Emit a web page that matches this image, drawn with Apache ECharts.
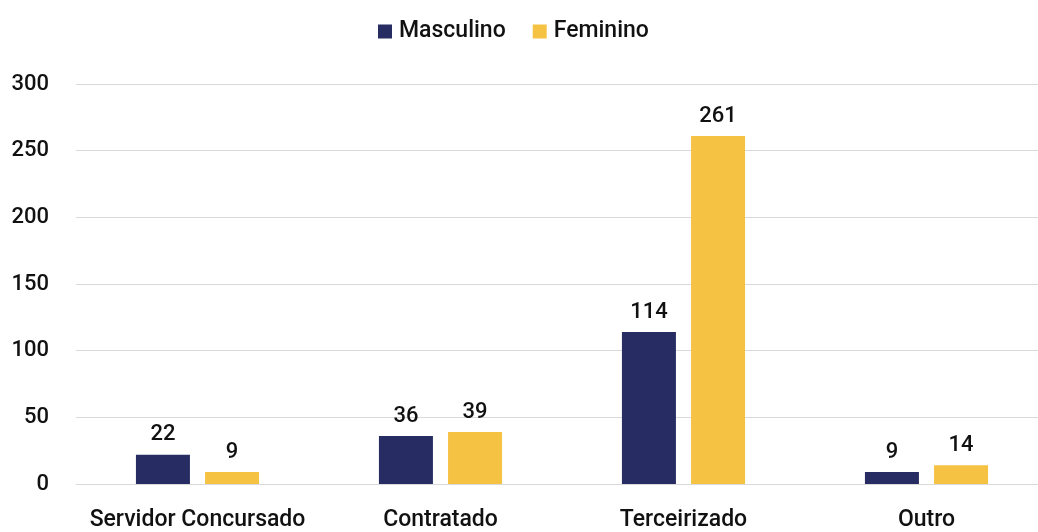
<!DOCTYPE html>
<html>
<head>
<meta charset="utf-8">
<script src="https://cdn.jsdelivr.net/npm/echarts@6/dist/echarts.min.js"></script>
<style>
  html, body { margin: 0; padding: 0; background: #ffffff; overflow: hidden; }
  #chart { width: 1048px; height: 532px; }
</style>
</head>
<body>
<div id="chart"></div>
<script>
// Vínculo de trabalho por sexo
const categories = ['Servidor Concursado', 'Contratado', 'Terceirizado', 'Outro'];
const masculino = [22, 36, 114, 9];
const feminino = [9, 39, 261, 14];
const yTicks = { min: 0, max: 300, interval: 50 };

const FONT = 'Roboto, "Noto Sans", sans-serif';
const TEXT = '#111111';

const chart = echarts.init(document.getElementById('chart'), null, { renderer: 'canvas' });
chart.setOption({
  animation: false,
  textStyle: { fontFamily: FONT, color: TEXT },
  legend: {
    top: 15,
    left: 373,
    itemWidth: 14,
    itemHeight: 14,
    itemGap: 27,
    icon: 'rect',
    textStyle: { fontFamily: FONT, fontSize: 23, fontWeight: 500, color: TEXT, padding: [0, 0, 0, 2] },
    data: ['Masculino', 'Feminino']
  },
  grid: { left: 76, top: 84, bottom: 48, right: 0, containLabel: false },
  xAxis: {
    type: 'category',
    data: categories,
    axisLine: { show: true, lineStyle: { color: '#d9d9d9', width: 1 } },
    axisTick: { show: false },
    axisLabel: { interval: 0, fontFamily: FONT, fontSize: 23, fontWeight: 500, color: TEXT, margin: 25 }
  },
  yAxis: {
    type: 'value',
    min: yTicks.min,
    max: yTicks.max,
    interval: yTicks.interval,
    axisLine: { show: false },
    axisTick: { show: false },
    splitLine: { lineStyle: { color: '#d9d9d9', width: 1 } },
    axisLabel: { fontFamily: FONT, fontSize: 22, fontWeight: 500, color: TEXT, margin: 27 }
  },
  series: [
    {
      name: 'Masculino',
      type: 'bar',
      data: masculino,
      barWidth: 54,
      barGap: '28%',
      itemStyle: { color: '#272d62' },
      label: { show: true, position: 'top', distance: 9, fontFamily: FONT, fontSize: 22, fontWeight: 500, color: TEXT }
    },
    {
      name: 'Feminino',
      type: 'bar',
      data: feminino,
      barWidth: 54,
      itemStyle: { color: '#f5c243' },
      label: { show: true, position: 'top', distance: 9, fontFamily: FONT, fontSize: 22, fontWeight: 500, color: TEXT }
    }
  ]
});
</script>
</body>
</html>
